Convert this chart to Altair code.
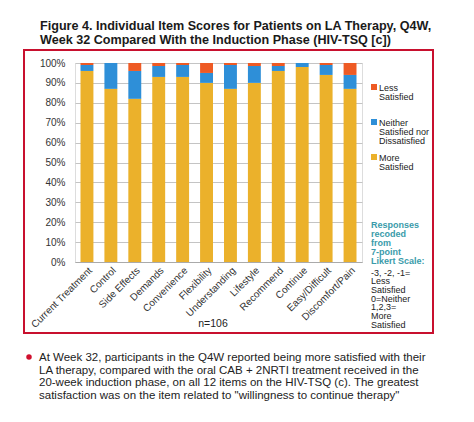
import altair as alt
import pandas as pd

items = ["Current Treatment", "Control", "Side Effects", "Demands", "Convenience",
         "Flexibility", "Understanding", "Lifestyle", "Recommend", "Continue",
         "Easy/Difficult", "Discomfort/Pain"]
more_satisfied = [96, 87, 82, 93, 93, 90, 87, 90, 96, 98, 94, 87]
neither = [3, 13, 14, 5.5, 6, 5, 12, 8.5, 2.5, 2, 5, 7]
less_satisfied = [1, 0, 4, 1.5, 1, 5, 1, 1.5, 1.5, 0, 1, 6]

categories = ["Less Satisfied", "Neither Satisfied nor Dissatisfied", "More Satisfied"]
colors = ["#EE5A24", "#2E8FD8", "#EBB12B"]

title_lines = ["Figure 4. Individual Item Scores for Patients on LA Therapy, Q4W,",
               "Week 32 Compared With the Induction Phase (HIV-TSQ [c])"]
legend_labels = ["Less\nSatisfied", "Neither\nSatisfied nor\nDissatisfied", "More\nSatisfied"]
note_teal = "Responses\nrecoded\nfrom\n7-point\nLikert Scale:"
note_black = "-3, -2, -1=\nLess\nSatisfied\n0=Neither\n1,2,3=\nMore\nSatisfied"
n_label = "n=106"
bullet_text = ("At Week 32, participants in the Q4W reported being more satisfied with their\n"
               "LA therapy, compared with the oral CAB + 2NRTI treatment received in the\n"
               "20-week induction phase, on all 12 items on the HIV-TSQ (c). The greatest\n"
               "satisfaction was on the item related to \"willingness to continue therapy\"")

FONT = "Liberation Sans"

rows = []
for i, it in enumerate(items):
    rows.append({"item": it, "cat": "More Satisfied", "ord": 0, "pct": more_satisfied[i]})
    rows.append({"item": it, "cat": "Neither Satisfied nor Dissatisfied", "ord": 1, "pct": neither[i]})
    rows.append({"item": it, "cat": "Less Satisfied", "ord": 2, "pct": less_satisfied[i]})
df = pd.DataFrame(rows)

bars = alt.Chart(df).mark_bar().encode(
    x=alt.X("item:N", sort=items,
            scale=alt.Scale(paddingInner=0.46, paddingOuter=0.23),
            axis=alt.Axis(title=None, labelAngle=-45, labelFontSize=10, labelColor="#333333",
                          labelFont=FONT, ticks=False, domainColor="#aaaaaa", labelPadding=3)),
    y=alt.Y("pct:Q", stack="zero", scale=alt.Scale(domain=[0, 100]),
            axis=alt.Axis(title=None, values=list(range(0, 101, 10)),
                          labelExpr="datum.value + '%'", labelFontSize=10, labelColor="#333333",
                          labelFont=FONT, ticks=False, domain=False, gridColor="#c4c4c4",
                          labelPadding=10)),
    color=alt.Color("cat:N", scale=alt.Scale(domain=categories, range=colors), legend=None),
    order=alt.Order("ord:Q", sort="ascending"),
)


def txt(t, x, y, size, color="#222222", bold=False, align="left", baseline="alphabetic", lh=None):
    kw = dict(align=align, baseline=baseline, fontSize=size, font=FONT, color=color,
              fontWeight="bold" if bold else "normal", lineBreak="\n")
    if lh is not None:
        kw["lineHeight"] = lh
    return alt.Chart(pd.DataFrame({"t": [t]})).mark_text(**kw).encode(
        x=alt.value(x), y=alt.value(y), text="t:N")


box = alt.Chart(pd.DataFrame({"a": [0]})).mark_rect(
    fill=None, fillOpacity=0, stroke="#C8102E", strokeWidth=2).encode(
    x=alt.value(-51), x2=alt.value(358), y=alt.value(-13), y2=alt.value(270))

layers = [box, bars]
layers.append(txt(title_lines[0], -35, -33, 12.6, "#1a1a1a", bold=True))
layers.append(txt(title_lines[1], -35, -19, 12.6, "#1a1a1a", bold=True))

sq_y = [24, 59, 94]
lab_y = [27.5, 62.5, 97.5]
for i in range(3):
    layers.append(alt.Chart(pd.DataFrame({"a": [0]})).mark_square(size=36, opacity=1).encode(
        x=alt.value(299), y=alt.value(sq_y[i]), color=alt.value(colors[i])))
    layers.append(txt(legend_labels[i], 304, lab_y[i], 9, "#222222", lh=9))

layers.append(txt(note_teal, 296, 164.5, 9, "#3A9BAA", bold=True, lh=9))
layers.append(txt(note_black, 296, 212.5, 9, "#222222", lh=8.7))
layers.append(txt(n_label, 138, 264, 10.5, "#222222", align="center"))

layers.append(alt.Chart(pd.DataFrame({"a": [0]})).mark_circle(size=30, opacity=1).encode(
    x=alt.value(-46), y=alt.value(294), color=alt.value("#D0102E")))
layers.append(txt(bullet_text, -36, 298, 11.5, "#222222", lh=12.7))

chart = alt.layer(*layers).properties(
    width=287, height=199,
    autosize=alt.AutoSizeParams(type="none"),
    padding={"left": 67, "top": 55, "right": 104, "bottom": 152},
).configure_view(stroke=None).configure(background="white")

chart.save("out.html", embed_options={"renderer": "svg", "actions": False})
